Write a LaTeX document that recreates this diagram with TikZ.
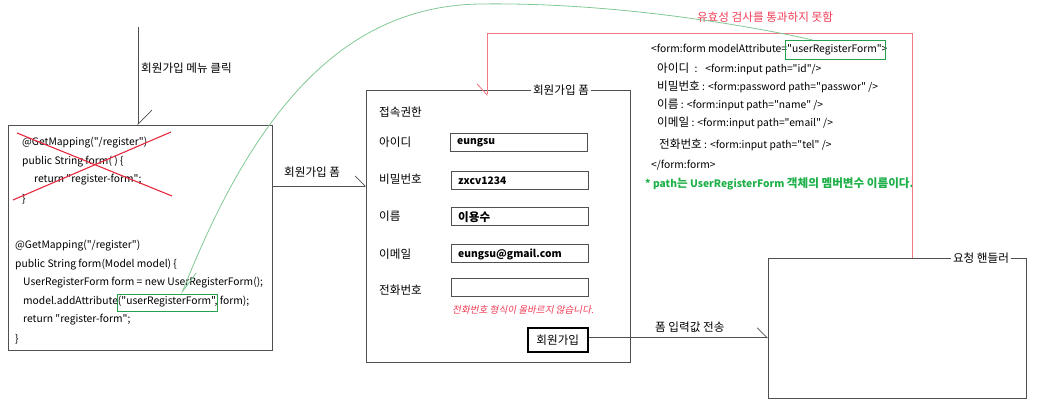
\documentclass[tikz,border=0pt]{standalone}
\usepackage{fontspec}
\setmainfont{Noto Sans CJK KR}[Ligatures=TeXOff]
\newfontfamily\kofont{Noto Sans CJK KR}[Ligatures=TeXOff]
\newfontfamily\errfont[FakeSlant=0.2,Ligatures=TeXOff]{Noto Sans CJK KR}
\newcommand\ko[1]{{\fontsize{11.6}{13}\kofont #1}}
\usetikzlibrary{arrows.meta}
\definecolor{boxgray}{HTML}{505050}
\definecolor{xred}{HTML}{E8283C}
\definecolor{linered}{HTML}{F07A84}
\definecolor{labelred}{HTML}{F03C55}
\definecolor{gbox}{HTML}{23A14B}
\definecolor{gcurve}{HTML}{80C994}
\definecolor{gtext}{HTML}{1FB04A}
\tikzset{
  panel/.style={draw=boxgray, line width=0.9pt, anchor=north west, inner sep=0pt},
  txt/.style={anchor=west, inner sep=0pt, font=\fontsize{10.3}{12}\selectfont},
  btxt/.style={txt, font=\fontsize{10.3}{12}\selectfont\bfseries},
  field/.style={draw=boxgray, line width=0.8pt, anchor=north west, inner sep=0pt, minimum width=137pt, minimum height=18pt},
  titlelbl/.style={fill=white, inner sep=2pt, font=\fontsize{10.3}{12}\selectfont},
  greenbox/.style={draw=gbox, line width=1.2pt, anchor=north west, inner sep=0pt},
  conn/.style={draw=boxgray, line width=0.7pt},
  barbL/.style={-{Straight Barb[harpoon, length=#1, width=2*#1]}},
}
\begin{document}
\begin{tikzpicture}[x=1pt,y=-1pt]
\useasboundingbox (0,0) rectangle (1037,411);

% ---- left controller box ----
\node[panel, minimum width=264pt, minimum height=225pt] (ctrl) at (8,125) {};
\node[txt] (c1) at (22,143) {@GetMapping("/register")};
\node[txt] (c2) at (22,162) {public String form( ) \{};
\node[txt] (c3) at (34,180) {return "register-form";};
\node[txt] (c4) at (22,199) {\}};
\draw[xred, line width=1.1pt] (17,133) -- (172,196);
\draw[xred, line width=1.1pt] (13,200) -- (171,132);
\node[txt] (d1) at (15,246) {@GetMapping("/register")};
\node[txt] (d2) at (15,265) {public String form(Model model) \{};
\node[txt] (d3) at (23,283) {UserRegisterForm form = new UserRegisterForm();};
\node[txt] (d4) at (23,302) {model.addAttribute("userRegisterForm", form);};
\node[txt] (d5) at (23,320) {return "register-form";};
\node[txt] (d6) at (15,339) {\}};
\node[greenbox, minimum width=100pt, minimum height=17pt] (lgbox) at (116.5,294) {};

% ---- menu click arrow ----
\coordinate (menutop) at (138,27);
\draw[conn, barbL=14pt] (menutop) -- (menutop |- ctrl.north);
\node[txt] (menulbl) at (141,68) {\ko{회원가입 메뉴 클릭}};

% ---- form box ----
\node[panel, minimum width=264pt, minimum height=272pt] (form) at (366,90) {};
\node[titlelbl] (formtitle) at (561,90) {\ko{회원가입 폼}};
\node[txt] (l0) at (379,112) {\ko{접속권한}};
\node[txt] (l1) at (379,142) {\ko{아이디}};
\node[txt] (l2) at (379,179) {\ko{비밀번호}};
\node[txt] (l3) at (379,216) {\ko{이름}};
\node[txt] (l4) at (379,254) {\ko{이메일}};
\node[txt] (l5) at (379,290) {\ko{전화번호}};
\node[field] (f1) at (450,133) {};
\node[field] (f2) at (451,171) {};
\node[field] (f3) at (451,207) {};
\node[field] (f4) at (451,244) {};
\node[field] (f5) at (451,278) {};
\node[btxt] at (457,143) {eungsu};
\node[btxt] at (458,181) {zxcv1234};
\node[btxt] at (458,217) {\ko{이용수}};
\node[btxt] at (458,254) {eungsu@gmail.com};
\node[anchor=west, inner sep=0pt, text=labelred, font=\fontsize{9.6}{11}\errfont] (err) at (452,310) {전화번호 형식이 올바르지 않습니다.};
\node[draw=black, line width=1.6pt, anchor=north west, minimum width=60pt, minimum height=24pt, inner sep=0pt, font=\fontsize{10.3}{12}\selectfont] (submit) at (527,327) {\ko{회원가입}};

% ---- arrow ctrl -> form ----
\coordinate (a1) at (300,186);
\draw[conn, barbL=10pt] (a1 -| ctrl.east) -- (a1 -| form.west);
\node[txt] (a1lbl) at (284,172) {\ko{회원가입 폼}};

% ---- handler box ----
\node[panel, minimum width=258pt, minimum height=140pt] (handler) at (768,258) {};
\node[titlelbl] (htitle) at (981,258) {\ko{요청 핸들러}};

% ---- submit -> handler ----
\draw[conn, barbL=10pt] ([yshift=2pt]submit.east) -- ([yshift=2pt]submit.east -| handler.west);
\node[txt] (sublbl) at (655,327) {\ko{폼 입력값 전송}};

% ---- right code text ----
\node[txt] (r1) at (651,50) {<form:form modelAttribute="userRegisterForm">};
\node[txt] (r2) at (657,69) {\ko{아이디}\hspace{3pt} :\hspace{5pt} <form:input path="id"/>};
\node[txt] (r3) at (657,87) {\ko{비밀번호} : <form:password path="passwor" />};
\node[txt] (r4) at (657,105) {\ko{이름} : <form:input path="name" />};
\node[txt] (r5) at (657,123) {\ko{이메일} : <form:input path="email" />};
\node[txt] (r6) at (659,145) {\ko{전화번호} : <form:input path="tel" />};
\node[txt] (r7) at (651,165) {</form:form>};
\node[btxt, text=gtext] (r8) at (645,184) {* path\ko{는} UserRegisterForm \ko{객체의 멤버변수 이름이다.}};
\node[greenbox, minimum width=100pt, minimum height=19pt] (rgbox) at (784.5,40) {};

% ---- red validation-fail connector ----
\coordinate (rc) at (912,33);
\coordinate (rl) at (487,96);
\draw[linered, line width=0.9pt, -{Straight Barb[harpoon, swap, length=11pt, width=20pt]}]
  (rc |- handler.north) -- (rc) -| (rl);
\node[inner sep=0pt, text=labelred] (redlbl) at (765,17) {\ko{유효성 검사를 통과하지 못함}};

% ---- green curve ----
\draw[gcurve, line width=0.8pt, {Straight Barb[harpoon, length=22pt, width=12pt]}-]
  ([xshift=14.5pt]lgbox.north) .. controls (258,100) and (350,6) .. (480,4)
  .. controls (620,2) and (760,28) .. ([xshift=-22.5pt]rgbox.north);
\end{tikzpicture}
\end{document}
